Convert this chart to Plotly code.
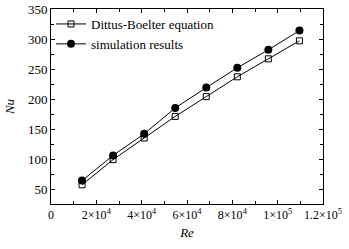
import plotly.graph_objects as go

re_vals = [13700, 27400, 41100, 54800, 68500, 82200, 95900, 109600]
nu_db = [57, 99, 135, 171, 204, 237, 267, 297]
nu_sim = [64, 106, 142, 185, 219, 252, 282, 314]
x_tickvals = [0, 20000, 40000, 60000, 80000, 100000, 120000]
x_ticktext = ["0", "2×10<sup>4</sup>", "4×10<sup>4</sup>", "6×10<sup>4</sup>",
              "8×10<sup>4</sup>", "1×10<sup>5</sup>", "1.2×10<sup>5</sup>"]
y_tickvals = [50, 100, 150, 200, 250, 300, 350]

font = "Liberation Serif, Times New Roman, serif"

fig = go.Figure()
fig.add_trace(go.Scatter(
    x=re_vals, y=nu_db, mode="lines+markers", name="Dittus-Boelter equation",
    line=dict(color="black", width=1),
    marker=dict(symbol="square-open", size=6, color="black", line=dict(width=1, color="black")),
))
fig.add_trace(go.Scatter(
    x=re_vals, y=nu_sim, mode="lines+markers", name="simulation results",
    line=dict(color="black", width=1),
    marker=dict(symbol="circle", size=8, color="black"),
))

axis_common = dict(
    showline=True, linecolor="black", linewidth=1, mirror="allticks",
    ticks="inside", ticklen=4, tickcolor="black", tickwidth=1,
    showgrid=False, zeroline=False, automargin=False,
)

fig.update_xaxes(
    range=[0, 120000], tickvals=x_tickvals, ticktext=x_ticktext,
    tickfont=dict(family=font, size=12, color="black"),
    minor=dict(ticks="inside", ticklen=3, tickcolor="black", dtick=10000, tick0=0),
    title=dict(text="<i>Re</i>", font=dict(family=font, size=13, color="black"), standoff=6),
    **axis_common,
)
fig.update_yaxes(
    range=[25, 350], tickvals=y_tickvals,
    tickfont=dict(family=font, size=13, color="black"),
    minor=dict(ticks="inside", ticklen=3, tickcolor="black", dtick=25, tick0=0),
    title=dict(text="<i>Nu</i>", font=dict(family=font, size=13, color="black"), standoff=10),
    **axis_common,
)

fig.update_layout(
    width=349, height=249,
    margin=dict(l=51, r=26, t=9, b=45),
    paper_bgcolor="white", plot_bgcolor="white",
    showlegend=True,
    legend=dict(x=0.0, y=1.0, xanchor="left", yanchor="top",
                font=dict(family=font, size=13, color="black"),
                bgcolor="rgba(0,0,0,0)", tracegroupgap=0, itemwidth=30),
    font=dict(family=font, color="black"),
)

fig.write_html("out.html", config={"displayModeBar": False},
               post_script="document.body.style.margin='0';document.body.style.padding='0';")
